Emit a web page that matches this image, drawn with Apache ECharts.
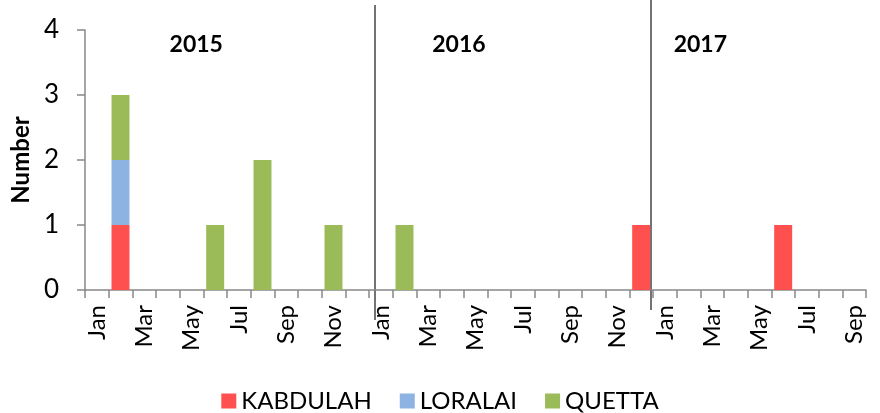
<!DOCTYPE html>
<html>
<head>
<meta charset="utf-8">
<script src="https://cdn.jsdelivr.net/npm/echarts@6/dist/echarts.min.js"></script>
<style>
  html, body { margin: 0; padding: 0; background: #fff; }
  #chart { width: 880px; height: 413px; }
</style>
</head>
<body>
<div id="chart"></div>
<script>
// months Jan 2015 .. Sep 2017
var months = ['Jan', 'Feb', 'Mar', 'Apr', 'May', 'Jun', 'Jul', 'Aug', 'Sep', 'Oct', 'Nov', 'Dec',
              'Jan', 'Feb', 'Mar', 'Apr', 'May', 'Jun', 'Jul', 'Aug', 'Sep', 'Oct', 'Nov', 'Dec',
              'Jan', 'Feb', 'Mar', 'Apr', 'May', 'Jun', 'Jul', 'Aug', 'Sep'];

var kabdulah = [0, 1, 0, 0, 0, 0, 0, 0, 0, 0, 0, 0,
                0, 0, 0, 0, 0, 0, 0, 0, 0, 0, 0, 1,
                0, 0, 0, 0, 0, 1, 0, 0, 0];
var loralai  = [0, 1, 0, 0, 0, 0, 0, 0, 0, 0, 0, 0,
                0, 0, 0, 0, 0, 0, 0, 0, 0, 0, 0, 0,
                0, 0, 0, 0, 0, 0, 0, 0, 0];
var quetta   = [0, 1, 0, 0, 0, 1, 0, 2, 0, 0, 1, 0,
                0, 1, 0, 0, 0, 0, 0, 0, 0, 0, 0, 0,
                0, 0, 0, 0, 0, 0, 0, 0, 0];

var yearLabels = ['2015', '2016', '2017'];
var yearStart = [0, 12, 24];   // first month index of each year

var fontFam = 'Lato, "Open Sans", sans-serif';
var myChart = echarts.init(document.getElementById('chart'));

function bar(name, data, color) {
	return {
		name: name,
		type: 'bar',
		stack: 'total',
		data: data,
		barCategoryGap: '24%',
		itemStyle: { color: color },
		emphasis: { disabled: true }
	};
}

var option = {
	animation: false,
	grid: { left: 85, right: 14, top: 30, bottom: 123, containLabel: false, outerBoundsMode: 'none' },
	legend: {
		bottom: -5,
		left: 'center',
		itemWidth: 15,
		itemHeight: 15,
		itemGap: 28,
		icon: 'rect',
		textStyle: { fontSize: 24, color: '#000', fontFamily: fontFam },
		data: ['KABDULAH', 'LORALAI', 'QUETTA']
	},
	xAxis: {
		type: 'category',
		data: months,
		boundaryGap: true,
		axisLine: { lineStyle: { color: '#888', width: 1.5 } },
		axisTick: { show: true, interval: 0, length: 8, lineStyle: { color: '#888', width: 1.5 } },
		axisLabel: {
			interval: 1,
			rotate: 90,
			fontSize: 24,
			color: '#000',
			fontFamily: fontFam,
			margin: 15
		}
	},
	yAxis: {
		type: 'value',
		min: 0,
		max: 4,
		interval: 1,
		name: 'Number',
		nameLocation: 'middle',
		nameGap: 51,
		nameRotate: 90,
		nameTextStyle: { fontSize: 24, fontWeight: 'bold', color: '#000', fontFamily: fontFam },
		axisLine: { show: true, lineStyle: { color: '#888', width: 1.5 } },
		axisTick: { show: true, length: 8, lineStyle: { color: '#888', width: 1.5 } },
		splitLine: { show: false },
		axisLabel: { fontSize: 26, color: '#000', fontFamily: fontFam, margin: 26 }
	},
	series: [
		bar('KABDULAH', kabdulah, '#FF5050'),
		bar('LORALAI', loralai, '#8DB3E2'),
		bar('QUETTA', quetta, '#9BBB59')
	]
};
myChart.setOption(option);

// year dividers and year captions, placed through the axis scale
var gr = [];
var yTop = myChart.convertToPixel({ yAxisIndex: 0 }, 4);
var yBase = myChart.convertToPixel({ yAxisIndex: 0 }, 0);
var step = myChart.convertToPixel({ xAxisIndex: 0 }, 1) - myChart.convertToPixel({ xAxisIndex: 0 }, 0);
var lineShift = [0, 6, -2];
var lineTop = [0, 5, 0];
var lineBottom = [0, 30, 20];
var capShift = [4.7, 3.8, 2];
for (var i = 0; i < yearLabels.length; i++) {
	var x0 = myChart.convertToPixel({ xAxisIndex: 0 }, yearStart[i]) - step / 2;
	if (i > 0) {
		gr.push({
			type: 'line',
			shape: { x1: x0 + lineShift[i], y1: lineTop[i], x2: x0 + lineShift[i], y2: yBase + lineBottom[i] },
			style: { stroke: '#444', lineWidth: 1.5 }
		});
	}
	gr.push({
		type: 'text',
		x: x0 + step * capShift[i],
		y: yTop + 15,
		style: {
			text: yearLabels[i],
			fontSize: 23,
			fontWeight: 'bold',
			fontFamily: fontFam,
			fill: '#000',
			align: 'center',
			verticalAlign: 'middle'
		}
	});
}
myChart.setOption({ graphic: gr });
</script>
</body>
</html>
